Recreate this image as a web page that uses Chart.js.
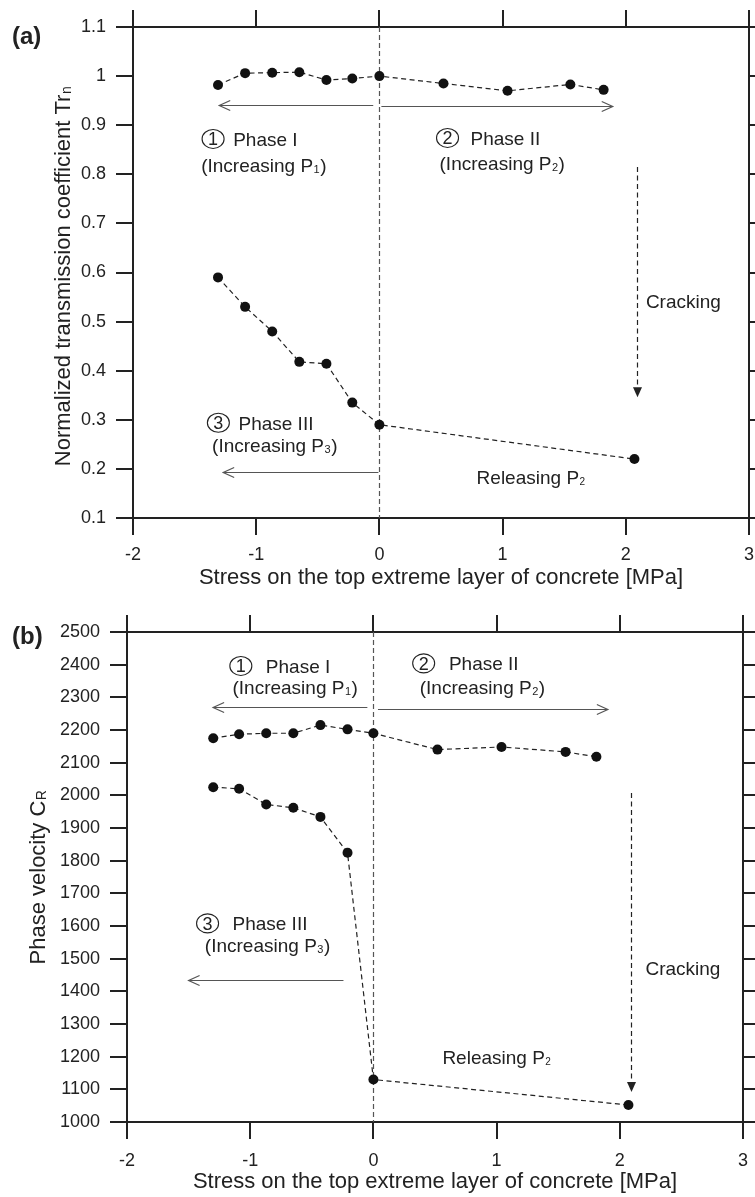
<!DOCTYPE html>
<html>
<head>
<meta charset="utf-8">
<script src="https://cdn.jsdelivr.net/npm/chart.js@4.4.1/dist/chart.umd.min.js"></script>
<style>
  body { margin: 0; background: #fff; }
  #wrap { position: relative; width: 755px; height: 1197px; }
  canvas { position: absolute; left: 0; }
  #chartA { top: 0; }
  #chartB { top: 600px; }
</style>
</head>
<body>
<div id="wrap">
  <canvas id="chartA" width="755" height="600"></canvas>
  <canvas id="chartB" width="755" height="597"></canvas>
</div>
<script>
// (a) normalized transmission coefficient
const stressA1 = [-1.31, -1.09, -0.87, -0.65, -0.43, -0.22, 0, 0.52, 1.04, 1.55, 1.82];
const trA1     = [0.982, 1.006, 1.007, 1.008, 0.992, 0.995, 1.0, 0.985, 0.970, 0.983, 0.972];
const stressA2 = [-1.31, -1.09, -0.87, -0.65, -0.43, -0.22, 0, 2.07];
const trA2     = [0.590, 0.530, 0.480, 0.418, 0.414, 0.335, 0.290, 0.220];

// (b) phase velocity
const stressB1 = [-1.30, -1.09, -0.87, -0.65, -0.43, -0.21, 0, 0.52, 1.04, 1.56, 1.81];
const crB1     = [2175, 2187, 2190, 2190, 2215, 2202, 2190, 2140, 2148, 2133, 2118];
const stressB2 = [-1.30, -1.09, -0.87, -0.65, -0.43, -0.21, 0, 2.07];
const crB2     = [2025, 2020, 1972, 1962, 1934, 1824, 1130, 1052];

// ticks
const xTicks = [-2, -1, 0, 1, 2, 3];
const xTickLabels = ['-2', '-1', '0', '1', '2', '3'];
const yTicksA = [0.1, 0.2, 0.3, 0.4, 0.5, 0.6, 0.7, 0.8, 0.9, 1.0, 1.1];
const yTickLabelsA = ['0.1', '0.2', '0.3', '0.4', '0.5', '0.6', '0.7', '0.8', '0.9', '1', '1.1'];
const yTicksB = [1000, 1100, 1200, 1300, 1400, 1500, 1600, 1700, 1800, 1900, 2000, 2100, 2200, 2300, 2400, 2500];
const yTickLabelsB = ['1000', '1100', '1200', '1300', '1400', '1500', '1600', '1700', '1800', '1900', '2000', '2100', '2200', '2300', '2400', '2500'];

const FONT = '"Liberation Sans", Arial, sans-serif';
const INK = '#222';

// annotation layout (positions in data units)
const annA = {
  label: '(a)', labelY: 35,
  yTitle: ['Normalized transmission coefficient Tr', 'n'], yTitleX: 62, yTitleY: 276,
  arrows: [[-0.05, -1.30, 0.941], [0.016, 1.894, 0.939], [-0.008, -1.268, 0.194]],
  crack: [2.087, 0.815, 0.346],
  circles: [['1', -1.350, 0.872], ['2', 0.553, 0.874], ['3', -1.307, 0.294]],
  texts: [
    [-1.187, 0.872, 'Phase I'], [-1.447, 0.819, '(Increasing P', '1', ')'],
    [0.740, 0.874, 'Phase II'], [0.488, 0.823, '(Increasing P', '2', ')'],
    [2.163, 0.542, 'Cracking'],
    [-1.144, 0.294, 'Phase III'], [-1.358, 0.249, '(Increasing P', '3', ')'],
    [0.789, 0.184, 'Releasing P', '2', '']
  ]
};
const annB = {
  label: '(b)', labelY: 35,
  yTitle: ['Phase velocity C', 'R'], yTitleX: 37, yTitleY: 277,
  arrows: [[-0.049, -1.301, 2269], [0.037, 1.903, 2264], [-0.243, -1.500, 1436]],
  crack: [2.087, 2007, 1092],
  circles: [['1', -1.076, 2396], ['2', 0.408, 2404], ['3', -1.346, 1608]],
  texts: [
    [-0.873, 2396, 'Phase I'], [-1.144, 2331, '(Increasing P', '1', ')'],
    [0.613, 2404, 'Phase II'], [0.376, 2331, '(Increasing P', '2', ')'],
    [2.208, 1471, 'Cracking'],
    [-1.144, 1608, 'Phase III'], [-1.368, 1541, '(Increasing P', '3', ')'],
    [0.560, 1199, 'Releasing P', '2', '']
  ]
};

function pts(xs, ys) {
  return xs.map((x, i) => ({ x: x, y: ys[i] }));
}

function fixTicks(values) {
  return axis => { axis.ticks = values.map(v => ({ value: v })); };
}

// text with an optional subscript, y = middle of capitals
function richText(ctx, x, y, main, sub, tail, size, subScale) {
  const base = y + 0.36 * size;
  ctx.font = size + 'px ' + FONT;
  ctx.fillText(main, x, base);
  let cx = x + ctx.measureText(main).width;
  if (sub) {
    const ss = Math.round(size * subScale);
    ctx.font = ss + 'px ' + FONT;
    ctx.fillText(sub, cx + 0.5, base + 1);
    cx += ctx.measureText(sub).width + 1;
    ctx.font = size + 'px ' + FONT;
    if (tail) ctx.fillText(tail, cx, base);
  }
}

function overlay(ann) {
  return {
    id: 'overlay',
    beforeDatasetsDraw(chart) {
      const { ctx, chartArea: a, scales } = chart;
      const px = Math.round(scales.x.getPixelForValue(0)) + 0.5;
      ctx.save();
      ctx.strokeStyle = '#555';
      ctx.lineWidth = 1.2;
      ctx.setLineDash([5, 3]);
      ctx.beginPath();
      ctx.moveTo(px, a.top);
      ctx.lineTo(px, a.bottom);
      ctx.stroke();
      ctx.restore();
    },
    afterDraw(chart) {
      const { ctx, scales } = chart;
      const X = v => scales.x.getPixelForValue(v);
      const Y = v => scales.y.getPixelForValue(v);
      ctx.save();
      ctx.fillStyle = INK;
      ctx.textAlign = 'left';
      ctx.textBaseline = 'alphabetic';

      // horizontal phase arrows
      ctx.strokeStyle = '#555';
      ctx.lineWidth = 1.2;
      ann.arrows.forEach(([x1, x2, yv]) => {
        const a = X(x1), b = X(x2), y = Math.round(Y(yv)) + 0.5;
        const d = Math.sign(b - a);
        ctx.beginPath();
        ctx.moveTo(a, y); ctx.lineTo(b, y);
        ctx.moveTo(b - d * 11, y - 5); ctx.lineTo(b, y); ctx.lineTo(b - d * 11, y + 5);
        ctx.stroke();
      });

      // cracking arrow
      const [cxv, cy1, cy2] = ann.crack;
      const cx = Math.round(X(cxv)) + 0.5, t1 = Y(cy1), t2 = Y(cy2);
      ctx.strokeStyle = INK;
      ctx.setLineDash([5, 3.5]);
      ctx.beginPath(); ctx.moveTo(cx, t1); ctx.lineTo(cx, t2 - 9); ctx.stroke();
      ctx.setLineDash([]);
      ctx.beginPath();
      ctx.moveTo(cx - 4.5, t2 - 10); ctx.lineTo(cx + 4.5, t2 - 10); ctx.lineTo(cx, t2);
      ctx.closePath(); ctx.fill();

      // circled numbers
      ann.circles.forEach(([n, xv, yv]) => {
        const x = X(xv), y = Y(yv);
        ctx.lineWidth = 1.1;
        ctx.beginPath(); ctx.ellipse(x, y, 11, 9.5, 0, 0, Math.PI * 2); ctx.stroke();
        ctx.font = '18px ' + FONT;
        ctx.textAlign = 'center';
        ctx.fillText(n, x, y + 6.5);
        ctx.textAlign = 'left';
      });

      // labels
      ann.texts.forEach(t => {
        const small = t[2] === 'Releasing P' ? 0.5 : 0.6;
        richText(ctx, X(t[0]), Y(t[1]), t[2], t[3], t[4], 19, small);
      });

      // y-axis title (rotated)
      ctx.save();
      ctx.translate(ann.yTitleX, ann.yTitleY);
      ctx.rotate(-Math.PI / 2);
      ctx.font = '22px ' + FONT;
      const w1 = ctx.measureText(ann.yTitle[0]).width;
      ctx.font = '14px ' + FONT;
      const w2 = ctx.measureText(ann.yTitle[1]).width;
      richText(ctx, -(w1 + w2 + 1) / 2, 0, ann.yTitle[0], ann.yTitle[1], '', 22, 0.64);
      ctx.restore();

      // panel label
      ctx.font = 'bold 24px ' + FONT;
      ctx.fillText(ann.label, 12, ann.labelY + 8.6);
      ctx.restore();
    }
  };
}

function noPad(s) {
  s.paddingLeft = 0; s.paddingRight = 0; s.paddingTop = 0; s.paddingBottom = 0;
}

function makeScales(o) {
  const grid = { drawOnChartArea: false, drawTicks: true, tickLength: 17, color: INK, lineWidth: 2 };
  const border = { display: true, color: INK, width: 2 };
  const tickFont = { family: FONT, size: 18 };
  return {
    x: {
      type: 'linear', position: 'bottom', min: -2, max: 3,
      afterBuildTicks: fixTicks(xTicks),
      grid: grid, border: border,
      ticks: { callback: (v, i) => xTickLabels[i], color: INK, font: tickFont, padding: o.xPad, maxRotation: 0, autoSkip: false },
      title: { display: true, text: 'Stress on the top extreme layer of concrete [MPa]', color: INK,
               font: { family: FONT, size: 22 }, padding: { top: 0, bottom: o.titlePad } },
      afterFit: s => { s.height = o.bottom; noPad(s); }
    },
    xTop: {
      type: 'linear', position: 'top', min: -2, max: 3,
      afterBuildTicks: fixTicks(xTicks),
      grid: grid, border: border, ticks: { display: false },
      afterFit: s => { s.height = o.top; noPad(s); }
    },
    y: {
      type: 'linear', position: 'left', min: o.yTicks[0], max: o.yTicks[o.yTicks.length - 1],
      afterBuildTicks: fixTicks(o.yTicks),
      grid: grid, border: border,
      ticks: { callback: (v, i) => o.yLabels[i], color: INK, font: tickFont, padding: 10, autoSkip: false },
      afterFit: s => { s.width = o.left; noPad(s); }
    },
    yRight: {
      type: 'linear', position: 'right', min: o.yTicks[0], max: o.yTicks[o.yTicks.length - 1],
      afterBuildTicks: fixTicks(o.yTicks),
      grid: grid, border: border, ticks: { display: false },
      afterFit: s => { s.width = o.right; noPad(s); }
    }
  };
}

function series(data) {
  return {
    data: data, showLine: true,
    borderColor: INK, borderWidth: 1.2, borderDash: [5, 3.5],
    pointRadius: 5, pointHoverRadius: 5, pointBorderWidth: 0,
    pointBackgroundColor: '#111', tension: 0
  };
}

function makeChart(id, sets, scaleOpts, ann) {
  return new Chart(document.getElementById(id), {
    type: 'scatter',
    data: { datasets: sets.map(series) },
    options: {
      responsive: false,
      animation: false,
      layout: { padding: 0, autoPadding: false },
      plugins: { legend: { display: false }, tooltip: { enabled: false } },
      events: [],
      scales: makeScales(scaleOpts)
    },
    plugins: [overlay(ann)]
  });
}

makeChart('chartA', [pts(stressA1, trA1), pts(stressA2, trA2)],
  { left: 133, right: 6, top: 27, bottom: 82, xPad: 9, titlePad: 9, yTicks: yTicksA, yLabels: yTickLabelsA }, annA);

makeChart('chartB', [pts(stressB1, crB1), pts(stressB2, crB2)],
  { left: 127, right: 12, top: 32, bottom: 75, xPad: 11, titlePad: 2, yTicks: yTicksB, yLabels: yTickLabelsB }, annB);
</script>
</body>
</html>
